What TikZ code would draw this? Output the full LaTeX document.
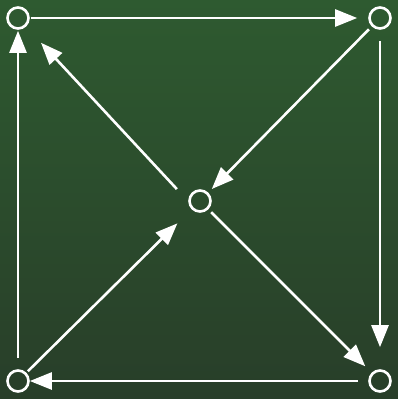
\documentclass[tikz,border=0pt]{standalone}
\usepackage{tikz}
\usetikzlibrary{arrows.meta,calc}
\definecolor{bgtop}{RGB}{46,90,48}
\definecolor{bgbot}{RGB}{40,62,41}

\begin{document}
\begin{tikzpicture}[x=1pt, y=-1pt,
  >={Triangle[length=22pt, width=17pt]},
  vtx/.style={draw=white, line width=2.6pt, circle, inner sep=0pt, minimum size=21pt},
  arr/.style={->, draw=white, line width=2.6pt}]
  \shade[top color=bgtop, bottom color=bgbot] (0,0) rectangle (398,399);
  \useasboundingbox (0,0) rectangle (398,399);
  \node[vtx] (tl) at (18,18) {};
  \node[vtx] (tr) at (380,18) {};
  \node[vtx] (bl) at (18,381) {};
  \node[vtx] (br) at (380,381) {};
  \node[vtx] (mid) at (200,201) {};
  \coordinate (midlow) at (200,214);
  % outer square
  \draw[arr, shorten <=1pt, shorten >=11pt] (tl) -- (tr);
  \draw[arr, shorten <=11pt, shorten >=22pt] (tr) -- (br);
  \draw[arr, shorten <=10pt, shorten >=0pt] (br) -- (bl);
  \draw[arr, shorten <=11pt, shorten >=1pt] (bl) -- (tl);
  % diagonals
  \draw[arr, shorten <=4pt, shorten >=5pt] (tr) -- (mid);
  \draw[arr, shorten <=4pt, shorten >=9pt] (mid) -- (br);
  \draw[arr, shorten <=2pt, shorten >=20pt] (bl) -- (mid);
  \draw[arr, shorten <=34pt, shorten >=22pt] (midlow) -- (tl);
\end{tikzpicture}
\end{document}
